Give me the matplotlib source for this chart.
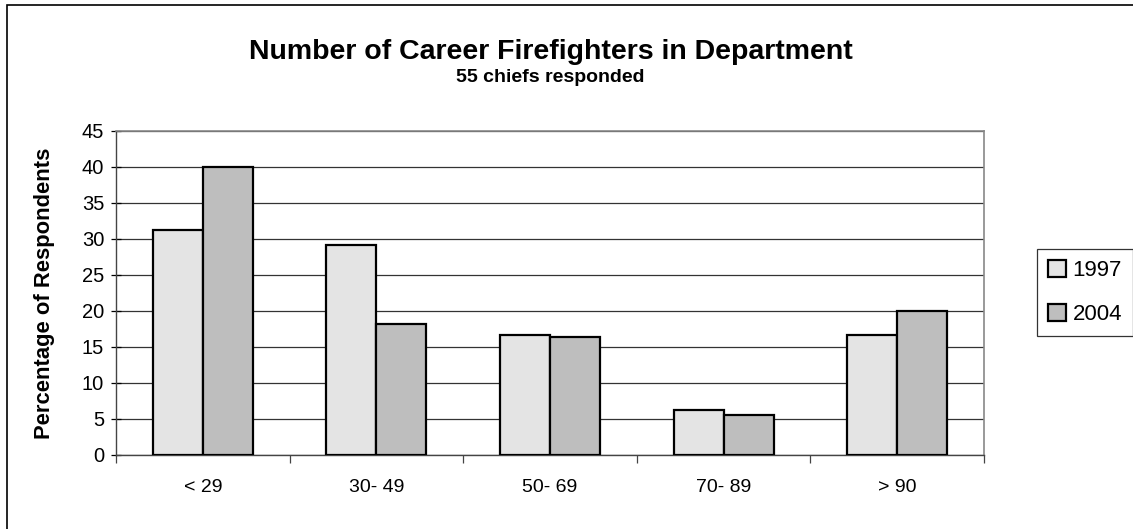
import matplotlib.pyplot as plt
import numpy as np
from matplotlib.patches import Rectangle

plt.rcParams['font.family'] = ['Liberation Sans', 'DejaVu Sans']

categories = ['< 29', '30- 49', '50- 69', '70- 89', '> 90']
years = ['1997', '2004']
values_1997 = [31.3, 29.1, 16.7, 6.3, 16.7]
values_2004 = [40.0, 18.2, 16.4, 5.5, 20.0]

fig = plt.figure(figsize=(11.33, 5.29), dpi=100)
ax = fig.add_axes([0.1024, 0.1399, 0.7661, 0.6125])

x = np.arange(len(categories))
w = 0.288
ax.bar(x - w / 2, values_1997, w, color='#e4e4e4', edgecolor='black', linewidth=1.6, label=years[0], zorder=3)
ax.bar(x + w / 2, values_2004, w, color='#bebebe', edgecolor='black', linewidth=1.6, label=years[1], zorder=3)

ax.set_xlim(-0.5, len(categories) - 0.5)
ax.set_ylim(0, 45)
ax.set_yticks(range(0, 46, 5))
ax.yaxis.grid(True, color='#333333', linewidth=0.9, zorder=0)

ax.set_xticks(x)
ax.set_xticklabels(categories, fontsize=14)
ax.set_xticks(np.arange(-0.5, len(categories), 1), minor=True)
ax.tick_params(axis='x', which='major', length=0, pad=17)
ax.tick_params(axis='x', which='minor', length=6, width=0.9, color='#444444')
ax.tick_params(axis='y', labelsize=14.5, length=7, width=0.9, direction='inout', pad=5)

for s in ['top', 'right']:
    ax.spines[s].set_color('#888888')
    ax.spines[s].set_linewidth(1.2)
for s in ['left', 'bottom']:
    ax.spines[s].set_color('#444444')
    ax.spines[s].set_linewidth(1.0)

fig.text(45 / 1133, 0.5 * (0.1399 + 0.7524), 'Percentage of Respondents', rotation=90,
         ha='center', va='center', fontsize=15.8, fontweight='bold')

fig.text(0.486, 1 - 52 / 529, 'Number of Career Firefighters in Department', ha='center', va='center',
         fontsize=20.5, fontweight='bold')
fig.text(0.486, 1 - 77 / 529, '55 chiefs responded', ha='center', va='center', fontsize=14, fontweight='bold')

leg = fig.legend(loc='upper left', bbox_to_anchor=(1037 / 1133, 1 - 249 / 529), borderaxespad=0,
                 fontsize=16, frameon=True, fancybox=False, edgecolor='black',
                 handlelength=0.8, handleheight=0.8, handletextpad=0.3, borderpad=0.5,
                 labelspacing=1.0)
leg.get_frame().set_linewidth(0.9)

# outer chart frame
fig.patches.append(Rectangle((7 / 1133, -0.1), 1.2, 1 - 5 / 529 + 0.1, transform=fig.transFigure,
                             fill=False, edgecolor='black', linewidth=1.2))

fig.savefig('out.png', dpi=100)
